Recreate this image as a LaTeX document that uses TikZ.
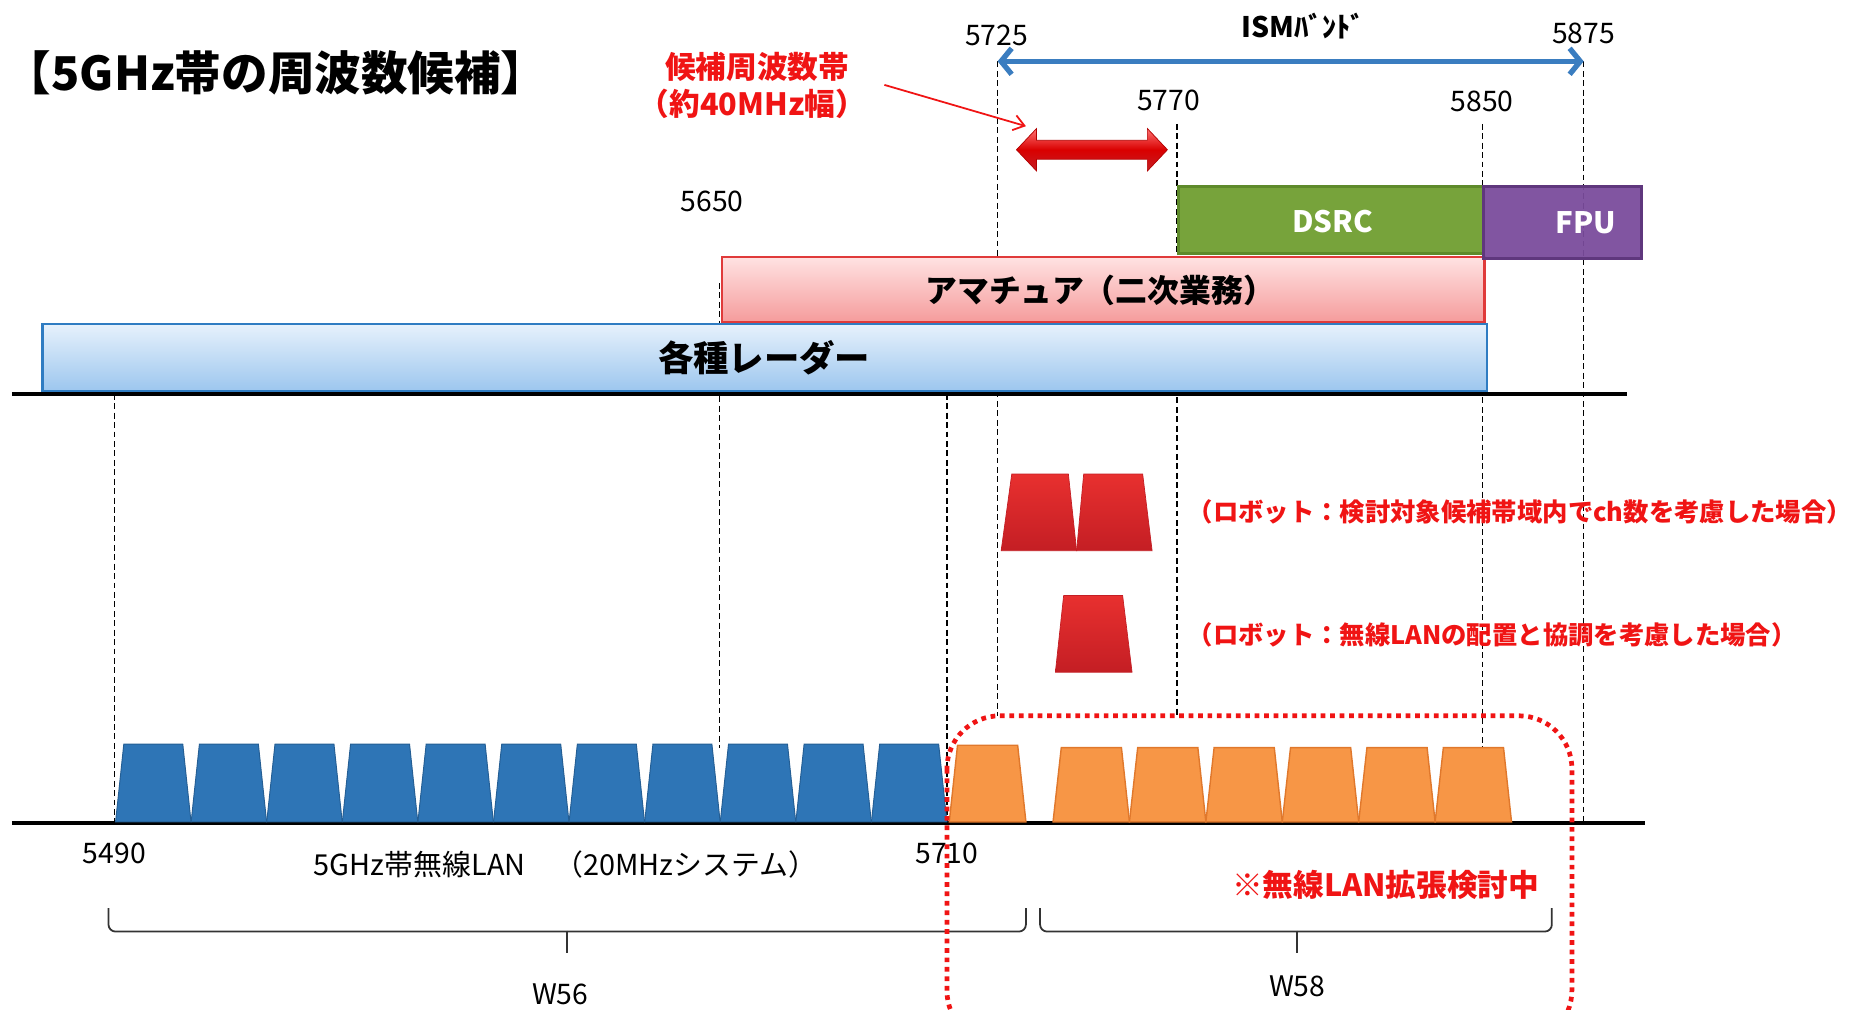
\documentclass[tikz,border=0pt]{standalone}
\usepackage{fontspec}
\setmainfont{Noto Sans CJK JP}
\usetikzlibrary{arrows.meta}
\definecolor{wlanblue}{HTML}{2E75B6}
\definecolor{wlanedge}{HTML}{245E94}
\definecolor{wlanorange}{HTML}{F79646}
\definecolor{orangeedge}{HTML}{E0782C}
\definecolor{dsrcgreen}{HTML}{77A33B}
\definecolor{dsrcedge}{HTML}{5E8A2B}
\definecolor{fpupurple}{HTML}{7A4B9C}
\definecolor{fpuedge}{HTML}{5F377D}
\definecolor{ismblue}{HTML}{3A7DC0}
\definecolor{alertred}{HTML}{F01414}
\definecolor{robtop}{HTML}{E8302F}
\definecolor{robbot}{HTML}{C41E24}
\definecolor{amaedge}{HTML}{E03A3A}
\definecolor{amatop}{HTML}{FFE2E2}
\definecolor{amabot}{HTML}{F59C9C}
\definecolor{radaredge}{HTML}{2F7CC2}
\definecolor{radartop}{HTML}{E6F1FC}
\definecolor{radarbot}{HTML}{9CC6EE}
\tikzset{
  txt/.style={inner sep=0pt, text=black},
  numlbl/.style={txt, font=\fontsize{24}{26}\selectfont},
  redlbl/.style={inner sep=0pt, text=alertred, font=\fontsize{21.5}{24}\selectfont\bfseries},
  guide/.style={black, line width=1.2pt, dash pattern=on 5pt off 3pt},
  axisline/.style={black, line width=4pt},
  bluechan/.style={fill=wlanblue, draw=wlanedge, line width=0.8pt},
  orangechan/.style={fill=wlanorange, draw=orangeedge, line width=1.2pt},
  robchan/.style={top color=robtop, bottom color=robbot, draw=robbot, line width=0.6pt},
  bracket/.style={draw=black!80, line width=1.5pt, rounded corners=6pt},
}
\begin{document}
\begin{tikzpicture}[x=1pt,y=-1pt]
\useasboundingbox (0,0) rectangle (1568,856);
\clip (0,0) rectangle (1568,856);
\fill[white] (0,0) rectangle (1568,856);

% guide lines (behind boxes)
\draw[guide] (97,334) -- (97,697);
\draw[guide] (610,240) -- (610,634);
\draw[guide] (803,334) -- (803,697);
\draw[guide] (846,52) -- (846,607);
\draw[guide] (998,105) -- (998,607);
\draw[guide] (1257,105) -- (1257,634);
\draw[guide] (1343,52) -- (1343,697);

% allocation boxes
\shade[top color=amatop, bottom color=amabot] (612,218) rectangle (1259,273);
\draw[amaedge, line width=2pt] (612,218) rectangle (1259,273);
\shade[top color=radartop, bottom color=radarbot] (36,275) rectangle (1261,332);
\draw[radaredge, line width=2pt] (36,275) rectangle (1261,332);
\fill[dsrcgreen] (999,158) rectangle (1258,215);
\draw[dsrcedge, line width=2.5pt] (999,158) rectangle (1258,215);
\fill[fpupurple, fill opacity=0.94] (1258,158) rectangle (1392,219);
\draw[fpuedge, line width=2.5pt] (1258,158) rectangle (1392,219);

% axes
\draw[axisline] (10,334) -- (1380,334);
\draw[axisline] (10,698) -- (1395,698);

% wireless LAN channels W56
\foreach \i in {0,...,10} {
  \pgfmathsetmacro\xa{98+64.1*\i}
  \path[bluechan] (\xa,697) -- (\xa+7,631) -- (\xa+57,631) -- (\xa+64,697) -- cycle;
}
% W58 channels
\path[orangechan] (805,697) -- (812,632) -- (863,632) -- (870,697) -- cycle;
\foreach \i in {0,...,5} {
  \pgfmathsetmacro\xb{893+64.8*\i}
  \path[orangechan] (\xb,697) -- (\xb+7,634) -- (\xb+58,634) -- (\xb+64.8,697) -- cycle;
}

% robot channels
\path[robchan] (849,467) -- (858,402) -- (906,402) -- (913,467) -- cycle;
\path[robchan] (913,467) -- (919,402) -- (969,402) -- (977,467) -- cycle;
\path[robchan] (895,570) -- (902,505) -- (952,505) -- (960,570) -- cycle;

% candidate band block arrow
\shade[top color=red!55!white, bottom color=robbot, middle color=red!85!black, draw=red!70!black, line width=0.6pt]
  (862,127) -- (879,109) -- (879,119) -- (973,119) -- (973,109) -- (990,127)
  -- (973,145) -- (973,135) -- (879,135) -- (879,145) -- cycle;

% ISM band arrow
\coordinate (ismL) at (846,52);
\coordinate (ismR) at (1343,52);
\draw[ismblue, line width=4.5pt, {Straight Barb[length=9pt,width=22pt]}-{Straight Barb[length=9pt,width=22pt]}] (ismL) -- (ismR);

% labels
\node[txt, anchor=west, font=\fontsize{39.5}{42}\selectfont\bfseries] (title) at (4,62) {【5GHz帯の周波数候補】};
\node[inner sep=0pt, text=alertred, font=\fontsize{26}{28}\selectfont\bfseries] (cand1) at (642,57) {候補周波数帯};
\node[inner sep=0pt, text=alertred, font=\fontsize{26}{28}\selectfont\bfseries] (cand2) at (638,88) {（約40MHz幅）};
\coordinate (candtail) at (750,72);
\coordinate (candhead) at (870,107);
\draw[alertred, line width=1.5pt, -{Straight Barb[length=9pt,width=13pt]}] (candtail) -- (candhead);

\node[numlbl] (n5725) at (845,30) {5725};
\node[txt, font=\fontsize{24}{26}\selectfont\bfseries] (ism) at (1105,22) {ISMﾊﾞﾝﾄﾞ};
\node[numlbl] (n5875) at (1343,28) {5875};
\node[numlbl] (n5770) at (991,85) {5770};
\node[numlbl] (n5850) at (1257,86) {5850};
\node[numlbl] (n5650) at (604,171) {5650};

\node[inner sep=0pt, text=white, font=\fontsize{25}{27}\selectfont\bfseries] (dsrc) at (1130,188) {DSRC};
\node[inner sep=0pt, text=white, font=\fontsize{25}{27}\selectfont\bfseries] (fpu) at (1345,189) {FPU};
\node[txt, font=\fontsize{27}{29}\selectfont\bfseries] (ama) at (933,246) {アマチュア（二次業務）};
\node[txt, font=\fontsize{30}{32}\selectfont\bfseries] (radar) at (648,303) {各種レーダー};

\node[redlbl, anchor=west] (rob1lbl) at (1007,434) {（ロボット：検討対象候補帯域内でch数を考慮した場合）};
\node[redlbl, anchor=west] (rob2lbl) at (1007,538) {（ロボット：無線LANの配置と協調を考慮した場合）};

\node[numlbl] (n5490) at (97,724) {5490};
\node[numlbl] (n5710) at (803,724) {5710};
\node[txt, anchor=west, font=\fontsize{24.5}{26}\selectfont] (wlanlbl) at (266,733) {5GHz帯無線LAN　（20MHzシステム）};
\node[inner sep=0pt, text=alertred, font=\fontsize{26}{28}\selectfont\bfseries] (ext) at (1175,750) {※無線LAN拡張検討中};

% brackets
\draw[bracket] (92,770) |- (481,790);
\draw[bracket] (870,770) |- (481,790);
\draw[black!80, line width=1.5pt] (481,790) -- (481,808);
\draw[bracket] (882,770) |- (1100,790);
\draw[bracket] (1316,770) |- (1100,790);
\draw[black!80, line width=1.5pt] (1100,790) -- (1100,808);
\node[numlbl] (w56) at (475,843) {W56};
\node[numlbl] (w58) at (1100,836) {W58};

% under study region
\draw[alertred, line width=4pt, dash pattern=on 4pt off 4pt, rounded corners=45pt] (803,607) rectangle (1333,885);
\end{tikzpicture}
\end{document}
